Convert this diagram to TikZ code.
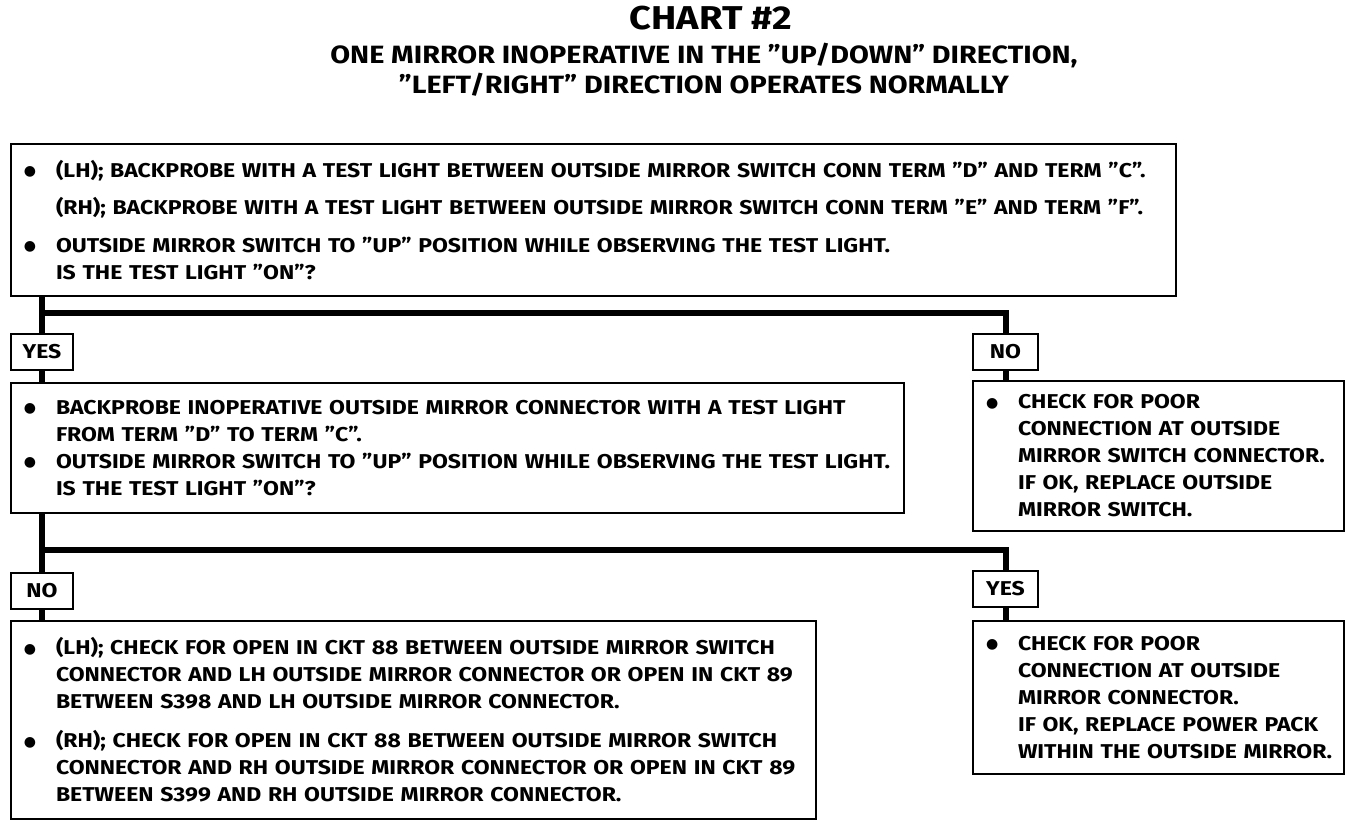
\documentclass[tikz,border=0pt]{standalone}
\usepackage{fontspec}
\setmainfont{Fira Sans}[FakeStretch=1.15]
\newfontfamily\dotfont{DejaVu Sans}
\usetikzlibrary{positioning,calc}

\newcommand{\bul}{\makebox[40pt][l]{\hspace{8pt}\raisebox{1.5pt}{\dotfont\fontsize{14}{14}\selectfont ●}}}
\newcommand{\nob}{\hspace*{40pt}}

\begin{document}
\begin{tikzpicture}[x=1pt, y=-1pt,
  font=\bfseries\fontsize{20}{27}\selectfont,
  box/.style={draw, line width=2pt, anchor=north west, align=left, inner xsep=5pt, inner ysep=0pt},
  tag/.style={draw, line width=2pt, anchor=north west, minimum width=62pt, minimum height=36pt, inner sep=0pt},
  trunk/.style={line width=6pt}]
\useasboundingbox (0,0) rectangle (1360,824);

% heading
\node[font=\bfseries\fontsize{33}{30}\selectfont] (title) at (711,18) {CHART \#2};
\node[font=\bfseries\fontsize{25}{30}\selectfont, align=center] (subtitle) at (704,70)
  {ONE MIRROR INOPERATIVE IN THE ”UP/DOWN” DIRECTION,\\”LEFT/RIGHT” DIRECTION OPERATES NORMALLY};

% first test
\node[box, minimum width=1165pt, minimum height=152pt, text width=1155pt] (q1) at (10,143)
  {\bul (LH); BACKPROBE WITH A TEST LIGHT BETWEEN OUTSIDE MIRROR SWITCH CONN TERM ”D” AND TERM ”C”.\\[10pt]
   \nob (RH); BACKPROBE WITH A TEST LIGHT BETWEEN OUTSIDE MIRROR SWITCH CONN TERM ”E” AND TERM ”F”.\\[11pt]
   \bul OUTSIDE MIRROR SWITCH TO ”UP” POSITION WHILE OBSERVING THE TEST LIGHT.\\
   \nob IS THE TEST LIGHT ”ON”?};
\node[tag] (yes1) at (10,333) {YES};
\node[tag, minimum width=65pt] (no1) at (972,333) {NO};

% second test
\node[box, minimum width=893pt, minimum height=130pt, text width=883pt] (q2) at (10,382)
  {\bul BACKPROBE INOPERATIVE OUTSIDE MIRROR CONNECTOR WITH A TEST LIGHT\\
   \nob FROM TERM ”D” TO TERM ”C”.\\
   \bul OUTSIDE MIRROR SWITCH TO ”UP” POSITION WHILE OBSERVING THE TEST LIGHT.\\
   \nob IS THE TEST LIGHT ”ON”?};
\node[box, minimum width=371pt, minimum height=150pt, text width=361pt] (fix1) at (972,380)
  {\bul CHECK FOR POOR\\
   \nob CONNECTION AT OUTSIDE\\
   \nob MIRROR SWITCH CONNECTOR.\\
   \nob IF OK, REPLACE OUTSIDE\\
   \nob MIRROR SWITCH.};
\node[tag] (no2) at (10,572) {NO};
\node[tag, minimum width=65pt] (yes2) at (972,570) {YES};

% repairs
\node[box, minimum width=805pt, minimum height=198pt, text width=795pt] (fix3) at (10,620)
  {\bul (LH); CHECK FOR OPEN IN CKT 88 BETWEEN OUTSIDE MIRROR SWITCH\\
   \nob CONNECTOR AND LH OUTSIDE MIRROR CONNECTOR OR OPEN IN CKT 89\\
   \nob BETWEEN S398 AND LH OUTSIDE MIRROR CONNECTOR.\\[12pt]
   \bul (RH); CHECK FOR OPEN IN CKT 88 BETWEEN OUTSIDE MIRROR SWITCH\\
   \nob CONNECTOR AND RH OUTSIDE MIRROR CONNECTOR OR OPEN IN CKT 89\\
   \nob BETWEEN S399 AND RH OUTSIDE MIRROR CONNECTOR.};
\node[box, minimum width=371pt, minimum height=153pt, text width=361pt] (fix2) at (972,620)
  {\bul CHECK FOR POOR\\
   \nob CONNECTION AT OUTSIDE\\
   \nob MIRROR CONNECTOR.\\
   \nob IF OK, REPLACE POWER PACK\\
   \nob WITHIN THE OUTSIDE MIRROR.};

% flow lines
\coordinate (fork1) at (41,313);
\coordinate (fork2) at (41,550);
\draw[trunk] (q1.south -| yes1.north) -- (yes1.north);
\draw[trunk] (fork1) -| (no1.north);
\draw[trunk] (yes1.south) -- (q2.north -| yes1.south);
\draw[trunk] (no1.south) -- (fix1.north -| no1.south);
\draw[trunk] (q2.south -| no2.north) -- (no2.north);
\draw[trunk] (fork2) -| (yes2.north);
\draw[trunk] (no2.south) -- (fix3.north -| no2.south);
\draw[trunk] (yes2.south) -- (fix2.north -| yes2.south);
\end{tikzpicture}
\end{document}
